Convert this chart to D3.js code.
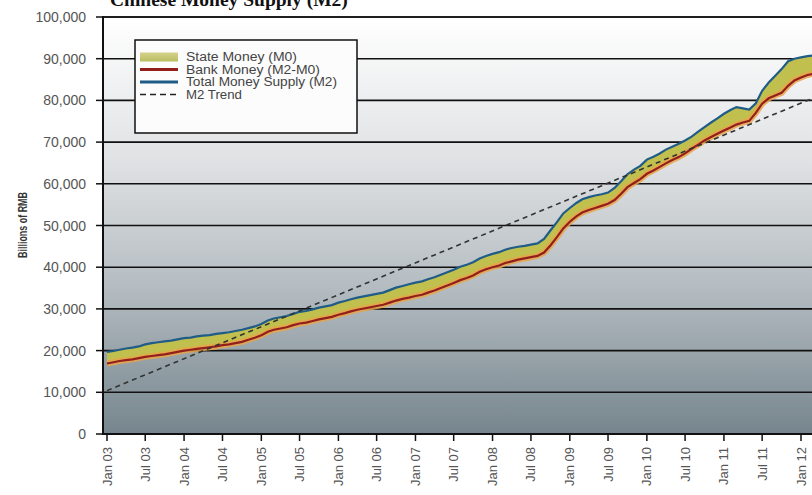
<!DOCTYPE html>
<html><head><meta charset="utf-8">
<script src="https://cdn.jsdelivr.net/npm/d3@7"></script>
<style>body{margin:0;background:#fff;} svg{display:block;}</style>
</head><body>
<svg id="c" width="812" height="495"></svg>
<script>
// ---- data ----
const chartTitle = "Chinese Money Supply (M2)";
const yTitle = "Billions of RMB";
const seriesNames = ["State Money (M0)", "Bank Money (M2-M0)", "Total Money Supply (M2)", "M2 Trend"];
const firstMonth = "2003-01"; // monthly observations start here
// Total Money Supply (M2), billions RMB, monthly
const totalM2 = [
  19700,19900,20200,20500,20700,21000,21500,21800,22000,22200,22400,22700,
  23000,23100,23400,23600,23700,24000,24200,24400,24700,25000,25400,25800,
  26400,27200,27700,28000,28300,28800,29300,29500,29900,30300,30600,30900,
  31500,31900,32300,32700,33000,33300,33600,33900,34500,35100,35500,35900,
  36300,36600,37100,37600,38200,38800,39400,40100,40600,41200,42100,42700,
  43200,43600,44200,44600,44900,45100,45400,45700,46800,48800,50800,52900,
  54200,55400,56300,56800,57200,57500,57900,59000,60600,62300,63400,64300,
  65800,66500,67200,68200,68900,69600,70400,71300,72500,73600,74700,75700,
  76800,77700,78400,78100,77800,79300,82300,84300,85900,87500,89400,90000,
  90300,90600,90800
];
// Bank Money (M2-M0), billions RMB, monthly
const bankMoney = [
  16900,17200,17500,17700,17900,18200,18500,18700,18900,19100,19400,19700,
  20000,20200,20400,20600,20800,21000,21300,21500,21800,22100,22600,23100,
  23700,24500,25000,25300,25600,26100,26500,26700,27100,27500,27800,28100,
  28600,29000,29400,29800,30100,30400,30700,31000,31500,32000,32400,32700,
  33100,33400,33900,34400,35000,35600,36200,36900,37400,38000,38900,39500,
  40000,40400,41000,41400,41800,42100,42400,42700,43500,45200,47200,49300,
  50900,52200,53100,53700,54200,54700,55200,56100,57600,59200,60200,61100,
  62400,63200,64000,64900,65700,66400,67300,68400,69400,70400,71200,72000,
  72800,73500,74200,74700,75100,77000,79200,80500,81200,81800,83500,84800,
  85500,86100,86400
];
const trendMonths = ["2003-01", "2012-03"];
const trendValues = [10400, 80600];
const xTickLabels = ["Jan 03","Jul 03","Jan 04","Jul 04","Jan 05","Jul 05","Jan 06","Jul 06","Jan 07","Jul 07",
  "Jan 08","Jul 08","Jan 09","Jul 09","Jan 10","Jul 10","Jan 11","Jul 11","Jan 12"];
const yTickValues = [0,10000,20000,30000,40000,50000,60000,70000,80000,90000,100000];

// ---- build ----
const parseM = d3.timeParse("%Y-%m");
const parseTick = d3.timeParse("%b %y");
const start = parseM(firstMonth);
const rows = totalM2.map((v, i) => ({date: d3.timeMonth.offset(start, i), m2: v, bank: bankMoney[i]}));
const trend = trendMonths.map((m, i) => ({date: parseM(m), v: trendValues[i]}));

const svg = d3.select("#c");
const L = 103, R = 812, T = 17, B = 434;
const x = d3.scaleTime().domain([parseTick("Jan 03"), parseTick("Jan 12")]).range([107, 801]);
const y = d3.scaleLinear().domain([0, 100000]).range([B, T]);

const defs = svg.append("defs");
const bg = defs.append("linearGradient").attr("id","bg").attr("x1",0).attr("y1",0).attr("x2",0).attr("y2",1);
[["0%","#ffffff"],["35%","#dfe1e3"],["65%","#b4bcc1"],["100%","#76858d"]].forEach(s =>
  bg.append("stop").attr("offset", s[0]).attr("stop-color", s[1]));
const sw = defs.append("linearGradient").attr("id","sw").attr("x1",0).attr("y1",0).attr("x2",0).attr("y2",1);
[["0%","#d6d28a"],["100%","#b9bd62"]].forEach(s =>
  sw.append("stop").attr("offset", s[0]).attr("stop-color", s[1]));
defs.append("clipPath").attr("id","clip").append("rect")
  .attr("x", L).attr("y", T - 5).attr("width", R - L).attr("height", B - T + 5);

// title (partly cut at the top, as in the reference)
svg.append("text").attr("x", 110).attr("y", 6)
  .attr("font-family", "'Liberation Serif','DejaVu Serif',serif").attr("font-weight", "bold")
  .attr("font-size", 19.5).attr("fill", "#111").text(chartTitle);

// plot background
svg.append("rect").attr("x", L).attr("y", T).attr("width", R - L + 5).attr("height", B - T).attr("fill", "url(#bg)");

// gridlines
svg.append("g").selectAll("line").data(yTickValues.filter(v => v > 0)).join("line")
  .attr("x1", L).attr("x2", R + 5).attr("y1", d => y(d)).attr("y2", d => y(d))
  .attr("stroke", "#111").attr("stroke-width", 1.6);

// data
const g = svg.append("g").attr("clip-path", "url(#clip)");
const band = d3.area().x(d => x(d.date)).y0(d => y(d.bank)).y1(d => y(d.m2));
g.append("path").datum(rows).attr("d", band).attr("fill", "#c1c04e");
const lineBank = d3.line().x(d => x(d.date)).y(d => y(d.bank));
const lineM2 = d3.line().x(d => x(d.date)).y(d => y(d.m2));
g.append("path").datum(rows).attr("d", lineBank).attr("fill","none").attr("stroke","#e7a44a").attr("stroke-width",6).attr("opacity",0.85);
g.append("path").datum(rows).attr("d", lineBank).attr("fill","none").attr("stroke","#931f1c").attr("stroke-width",2.2);
g.append("path").datum(rows).attr("d", lineM2).attr("fill","none").attr("stroke","#1f5c87").attr("stroke-width",2.2);
g.append("path").datum(trend).attr("d", d3.line().x(d => x(d.date)).y(d => y(d.v)))
  .attr("fill","none").attr("stroke","#333").attr("stroke-width",1.6).attr("stroke-dasharray","5,4");

// frame
svg.append("line").attr("x1", L).attr("x2", L).attr("y1", T - 1).attr("y2", B + 1).attr("stroke","#111").attr("stroke-width",2);
svg.append("line").attr("x1", L).attr("x2", R + 5).attr("y1", B).attr("y2", B).attr("stroke","#111").attr("stroke-width",2);
svg.append("line").attr("x1", L).attr("x2", R + 5).attr("y1", T).attr("y2", T).attr("stroke","#111").attr("stroke-width",1.6);

// y axis
const yAxis = svg.append("g");
yAxis.selectAll("line").data(yTickValues).join("line")
  .attr("x1", 96).attr("x2", L).attr("y1", d => y(d)).attr("y2", d => y(d)).attr("stroke","#111").attr("stroke-width",1.5);
yAxis.selectAll("text").data(yTickValues).join("text")
  .attr("x", 86).attr("y", d => y(d)).attr("dy", "0.36em").attr("text-anchor","end")
  .attr("font-family","'Liberation Sans',Arial,sans-serif").attr("font-size",14).attr("fill","#555")
  .text(d => d3.format(",")(d));
svg.append("text").attr("transform", "translate(27,225) rotate(-90)").attr("text-anchor","middle")
  .attr("font-family","'Liberation Sans',Arial,sans-serif").attr("font-weight","bold").attr("font-size",12)
  .attr("textLength", 66).attr("lengthAdjust","spacingAndGlyphs").attr("fill","#333").text(yTitle);

// x axis
const xAxis = svg.append("g");
xAxis.selectAll("line").data(xTickLabels).join("line")
  .attr("x1", d => x(parseTick(d))).attr("x2", d => x(parseTick(d))).attr("y1", B).attr("y2", B + 7)
  .attr("stroke","#111").attr("stroke-width",1.5);
xAxis.selectAll("text").data(xTickLabels).join("text")
  .attr("transform", d => `translate(${x(parseTick(d)) + 4.5},447) rotate(-90)`).attr("text-anchor","end")
  .attr("font-family","'Liberation Sans',Arial,sans-serif").attr("font-size",13).attr("fill","#555")
  .text(d => d);

// legend
const lg = svg.append("g");
lg.append("rect").attr("x",135).attr("y",40).attr("width",222).attr("height",93)
  .attr("fill","#fcfcfc").attr("stroke","#111").attr("stroke-width",1.5);
const rowsY = [57, 69.5, 82, 94.5];
const labelWidths = [111, 134, 151, 56];
lg.append("rect").attr("x",140).attr("y",rowsY[0]-4.5).attr("width",38).attr("height",9).attr("fill","url(#sw)");
lg.append("line").attr("x1",140).attr("x2",178).attr("y1",rowsY[1]).attr("y2",rowsY[1]).attr("stroke","#931f1c").attr("stroke-width",3);
lg.append("line").attr("x1",140).attr("x2",178).attr("y1",rowsY[2]).attr("y2",rowsY[2]).attr("stroke","#1f5c87").attr("stroke-width",3);
lg.append("line").attr("x1",140).attr("x2",178).attr("y1",rowsY[3]).attr("y2",rowsY[3]).attr("stroke","#222").attr("stroke-width",1.5).attr("stroke-dasharray","6,4");
lg.selectAll("text").data(seriesNames).join("text")
  .attr("x",186).attr("y",(d,i) => rowsY[i]).attr("dy","0.35em")
  .attr("font-family","'Liberation Sans Narrow','Liberation Sans',Arial,sans-serif").attr("font-size",12)
  .attr("textLength",(d,i) => labelWidths[i]).attr("lengthAdjust","spacingAndGlyphs").attr("fill","#444")
  .text(d => d);
</script>
</body></html>
